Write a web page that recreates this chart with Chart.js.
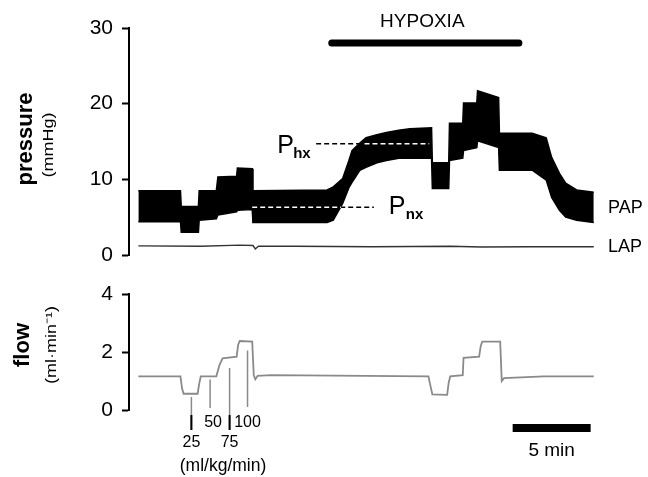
<!DOCTYPE html>
<html lang="en">
<head>
<meta charset="UTF-8">
<title>PAP / LAP and flow during hypoxia</title>
<style>
  body { margin: 0; background: #fff; }
  .wrap { position: relative; width: 648px; height: 477px; }
  .wrap canvas { position: absolute; left: 0; top: 0; }
</style>
</head>
<body>
<div class="wrap">
  <canvas id="pressureChart" width="648" height="477"></canvas>
  <canvas id="flowChart" width="648" height="477"></canvas>
</div>
<script src="https://cdn.jsdelivr.net/npm/chart.js"></script>
<script>
// time in minutes from start of trace
const papTime  = [0, 2.7, 2.75, 3.85, 3.9, 5.0, 5.1, 6.3, 6.35, 7.3, 7.35, 12.1, 12.5, 13.1, 13.5, 13.7, 14.2, 14.6, 15.3, 15.9, 16.7, 17.4, 18.8, 18.85, 19.9, 19.95, 20.8, 20.85, 21.7, 21.75, 23.1, 23.15, 25.25, 26.15, 26.5, 27.0, 27.4, 28.1, 29.2];
const papUpper = [8.5, 8.5, 6.4, 6.4, 8.5, 8.5, 10.3, 10.4, 11.5, 11.4, 8.5, 8.6, 9.0, 10.1, 12.5, 13.8, 14.8, 15.5, 15.9, 16.2, 16.5, 16.7, 16.8, 12.2, 12.2, 17.4, 17.4, 20.1, 20.1, 21.7, 20.8, 16.1, 16.1, 15.5, 12.9, 10.8, 9.5, 8.6, 8.3];
const papLower = [4.4, 4.4, 3.0, 3.0, 4.6, 4.8, 5.3, 5.7, 5.9, 6.0, 4.3, 4.3, 4.6, 6.8, 8.9, 9.6, 11.2, 11.6, 12.2, 12.5, 12.8, 12.8, 12.8, 8.8, 8.8, 12.5, 12.8, 13.8, 14.2, 15.1, 14.2, 11.2, 11.2, 9.9, 7.6, 5.9, 5.0, 4.6, 4.3];

const lapTime   = [0, 4.0, 6.5, 7.35, 7.5, 7.7, 10, 15, 20, 22, 25, 29.2];
const lapValues = [1.2, 1.15, 1.3, 1.25, 0.8, 1.15, 1.15, 1.1, 1.15, 1.05, 1.1, 1.1];

const flowTime   = [0, 2.7, 2.8, 2.9, 3.8, 3.9, 4.0, 5.0, 5.2, 5.4, 6.3, 6.4, 6.5, 7.3, 7.4, 7.5, 7.65, 8.5, 18.6, 18.7, 18.85, 19.8, 19.9, 20.0, 20.8, 20.85, 21.85, 21.95, 22.05, 23.2, 23.3, 23.45, 26.0, 29.2];
const flowValues = [1.16, 1.16, 0.75, 0.56, 0.56, 0.9, 1.16, 1.16, 1.55, 1.78, 1.84, 2.25, 2.38, 2.36, 1.2, 1.06, 1.18, 1.2, 1.16, 0.9, 0.54, 0.52, 0.95, 1.16, 1.2, 1.8, 1.84, 2.2, 2.36, 2.36, 1.0, 1.1, 1.16, 1.16];

// infusion doses (ml/kg/min) and when they were marked
const doseLabels = ['25', '50', '75', '100'];
const doseTimes  = [3.4, 4.6, 5.85, 7.0];
const doseTops   = [0.45, 1.05, 1.45, 2.05];

// hypoxia period and reference levels
const hypoxiaStart = 12.4, hypoxiaEnd = 24.4;
const phxLevel = 14.7, phxFrom = 11.4, phxTo = 18.65;
const pnxLevel = 6.3, pnxFrom = 7.3, pnxTo = 15.1;
const scaleBarStart = 24.0, scaleBarMinutes = 5;

const X_MIN = -0.6, X_MAX = 29.6;
const FONT = '"Liberation Sans", Arial, sans-serif';

const pts = (xs, ys) => xs.map((t, i) => ({ x: t, y: ys[i] }));

function rotText(ctx, str, cx, cy, font, stretch) {
    ctx.save();
    ctx.translate(cx, cy);
    ctx.rotate(-Math.PI / 2);
    ctx.scale(stretch || 1, 1);
    ctx.font = font;
    ctx.fillStyle = '#000';
    ctx.textAlign = 'center';
    ctx.textBaseline = 'middle';
    ctx.fillText(str, 0, 0);
    ctx.restore();
}

function text(ctx, str, x, y, font, align, base) {
    ctx.font = font;
    ctx.fillStyle = '#000';
    ctx.textAlign = align || 'center';
    ctx.textBaseline = base || 'middle';
    ctx.fillText(str, x, y);
}

function dashed(ctx, x1, x2, y, color) {
    ctx.save();
    ctx.strokeStyle = color;
    ctx.lineWidth = 1.5;
    ctx.setLineDash([5, 3]);
    ctx.beginPath();
    ctx.moveTo(x1, y);
    ctx.lineTo(x2, y);
    ctx.stroke();
    ctx.restore();
}

function yAxis(min, max, step) {
    return {
        min: min, max: max,
        afterFit: s => { s.width = 129; },
        ticks: { stepSize: step, color: '#000', padding: 9, font: { family: FONT, size: 21 } },
        grid: { drawOnChartArea: false, drawTicks: true, tickLength: 7, color: '#000', tickWidth: 2 },
        border: { display: true, color: '#000', width: 2 }
    };
}

const xAxis = { type: 'linear', min: X_MIN, max: X_MAX, display: false };

// labels and markers on the pressure panel
const pressureNotes = {
    id: 'pressureNotes',
    afterDatasetsDraw(chart) {
        const ctx = chart.ctx, x = chart.scales.x, y = chart.scales.y;
        const a = chart.chartArea;

        rotText(ctx, 'pressure', 26, 139, 'bold 22px ' + FONT);
        rotText(ctx, '(mmHg)', 49, 145, '15px ' + FONT, 1.2);

        // hypoxia bar
        const hx1 = x.getPixelForValue(hypoxiaStart), hx2 = x.getPixelForValue(hypoxiaEnd);
        ctx.save();
        ctx.strokeStyle = '#000';
        ctx.lineWidth = 7;
        ctx.lineCap = 'round';
        ctx.beginPath();
        ctx.moveTo(hx1, 43);
        ctx.lineTo(hx2, 43);
        ctx.stroke();
        ctx.restore();
        text(ctx, 'HYPOXIA', (hx1 + hx2) / 2 - 3, 22, '19px ' + FONT);

        // P_hx level
        const yh = y.getPixelForValue(phxLevel);
        const ph1 = x.getPixelForValue(phxFrom), ph2 = x.getPixelForValue(phxTo);
        dashed(ctx, ph1, ph2, yh, '#000');
        dashed(ctx, x.getPixelForValue(14.5), ph2, yh, '#fff');
        text(ctx, 'P', ph1 - 39, yh + 9, '25px ' + FONT, 'left', 'alphabetic');
        text(ctx, 'hx', ph1 - 23, yh + 14, 'bold 15px ' + FONT, 'left', 'alphabetic');

        // P_nx level
        const yn = y.getPixelForValue(pnxLevel);
        const pn1 = x.getPixelForValue(pnxFrom), pn2 = x.getPixelForValue(pnxTo);
        dashed(ctx, pn1, pn2, yn, '#000');
        dashed(ctx, pn1, x.getPixelForValue(13.0), yn, '#fff');
        text(ctx, 'P', pn2 + 15, yn + 7, '25px ' + FONT, 'left', 'alphabetic');
        text(ctx, 'nx', pn2 + 32, yn + 12, 'bold 15px ' + FONT, 'left', 'alphabetic');

        text(ctx, 'PAP', a.right + 8, 208, '18px ' + FONT, 'left');
        text(ctx, 'LAP', a.right + 8, 247, '18px ' + FONT, 'left');
    }
};

// labels and markers on the flow panel
const flowNotes = {
    id: 'flowNotes',
    afterDatasetsDraw(chart) {
        const ctx = chart.ctx, x = chart.scales.x, y = chart.scales.y;
        const a = chart.chartArea;

        rotText(ctx, 'flow', 23, 345, 'bold 22px ' + FONT);
        rotText(ctx, '(ml·min⁻¹)', 52, 345, '15px ' + FONT, 1.2);

        // dose marker lines
        const bottoms = [a.bottom + 20, a.bottom - 2, a.bottom + 20, a.bottom - 3];
        doseTimes.forEach((t, i) => {
            const px = x.getPixelForValue(t);
            const top = y.getPixelForValue(doseTops[i]);
            ctx.save();
            ctx.strokeStyle = '#8a8a8a';
            ctx.lineWidth = 1.5;
            ctx.beginPath();
            ctx.moveTo(px, top);
            ctx.lineTo(px, bottoms[i]);
            ctx.stroke();
            if (i % 2 === 0) {
                ctx.strokeStyle = '#000';
                ctx.lineWidth = 2;
                ctx.beginPath();
                ctx.moveTo(px, a.bottom + 5);
                ctx.lineTo(px, bottoms[i]);
                ctx.stroke();
            }
            ctx.restore();
            const row = i % 2 === 0 ? a.bottom + 33 : a.bottom + 13;
            text(ctx, doseLabels[i], px + (i === 1 ? 3 : 0), row, '16px ' + FONT);
        });
        text(ctx, '(ml/kg/min)', 223, a.bottom + 56, '17.5px ' + FONT);

        // time scale bar
        const s1 = x.getPixelForValue(scaleBarStart), s2 = x.getPixelForValue(scaleBarStart + scaleBarMinutes);
        ctx.fillStyle = '#000';
        ctx.fillRect(s1, a.bottom + 14, s2 - s1, 8);
        text(ctx, '5 min', (s1 + s2) / 2, a.bottom + 41, '19px ' + FONT);
    }
};

const common = {
    responsive: false,
    animation: false,
    events: [],
    plugins: { legend: { display: false }, tooltip: { enabled: false } },
    elements: { point: { radius: 0 }, line: { tension: 0 } }
};

new Chart(document.getElementById('pressureChart'), {
    type: 'line',
    data: {
        datasets: [{
            label: 'PAP upper',
            data: pts(papTime, papUpper),
            borderColor: '#000',
            backgroundColor: '#000',
            borderWidth: 1.5,
            fill: '+1'
        }, {
            label: 'PAP lower',
            data: pts(papTime, papLower),
            borderColor: '#000',
            borderWidth: 1.5,
            fill: false
        }, {
            label: 'LAP',
            data: pts(lapTime, lapValues),
            borderColor: '#333',
            borderWidth: 1.4,
            fill: false
        }]
    },
    options: Object.assign({}, common, {
        layout: { padding: { top: 28, bottom: 222, left: 0, right: 48 } },
        scales: { x: xAxis, y: yAxis(0, 30, 10) }
    }),
    plugins: [pressureNotes]
});

new Chart(document.getElementById('flowChart'), {
    type: 'line',
    data: {
        datasets: [{
            label: 'flow',
            data: pts(flowTime, flowValues),
            borderColor: '#8a8a8a',
            borderWidth: 1.8,
            fill: false
        }]
    },
    options: Object.assign({}, common, {
        layout: { padding: { top: 294, bottom: 67, left: 0, right: 48 } },
        scales: { x: xAxis, y: yAxis(0, 4, 2) }
    }),
    plugins: [flowNotes]
});
</script>
</body>
</html>
